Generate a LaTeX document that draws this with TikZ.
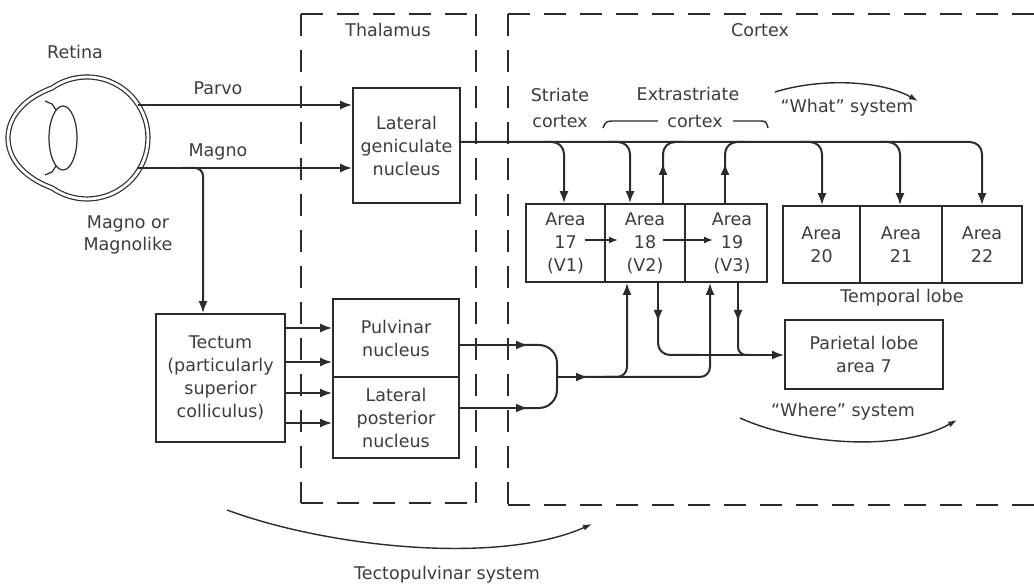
\documentclass[tikz,border=0pt]{standalone}
\usepackage{fontspec}
\setmainfont{DejaVu Sans}
\usetikzlibrary{arrows.meta,calc}
\definecolor{ink}{HTML}{2B2B2B}
\definecolor{inktext}{HTML}{3C3C3C}
\begin{document}
\begin{tikzpicture}[x=1pt,y=-1pt,
    every node/.style={text=inktext, font=\fontsize{17.5}{23}\selectfont},
    box/.style={draw=ink, line width=1.7pt, align=center, inner sep=0pt},
    wire/.style={draw=ink, line width=2pt},
    arrow/.style={wire, -{Latex[length=12pt,width=9pt]}},
    sweep/.style={draw=ink, line width=1.4pt, -{Latex[length=9pt,width=6pt]}},
    region/.style={draw=ink, line width=1.7pt, dash pattern=on 22pt off 14pt},
    eyeline/.style={draw=ink, double, double distance=2.8pt, line width=1.2pt}]
\useasboundingbox (0,0) rectangle (1034,585);

% dashed regions
\draw[region] (301,14) -- (476,14);
\draw[region] (301,14) -- (301,503);
\draw[region] (476,14) -- (476,503);
\draw[region] (301,503) -- (476,503);
\draw[region] (508,14) -- (1034,14);
\draw[region] (508,14) -- (508,505);
\draw[region] (508,505) -- (1034,505);

% eye
\draw[eyeline] (52,88) arc[start angle=-125, end angle=125, radius=61]
   .. controls (20,176) and (8,156) .. (8,138)
   .. controls (8,120) and (20,100) .. cycle;
\draw[ink, line width=1.2pt] (63,138) ellipse [x radius=14, y radius=32];
\draw[ink, line width=1.2pt] (45,101) -- (52,104) -- (56,110);
\draw[ink, line width=1.2pt] (45,175) -- (52,172) -- (56,166);
\coordinate (eyeP) at (138,105);
\coordinate (eyeM) at (137,168);

% boxes
\node[box, minimum width=107pt, minimum height=115pt] (lgn) at (406.5,145.5) {Lateral\\geniculate\\nucleus};
\node[box, minimum width=129pt, minimum height=128pt] (tectum) at (220.5,378) {Tectum\\(particularly\\superior\\colliculus)};
\node[box, minimum width=126pt, minimum height=78pt] (pulv) at (396,338) {Pulvinar\\nucleus};
\node[box, minimum width=126pt, minimum height=81pt] (lp) at (396,417.5) {Lateral\\posterior\\nucleus};

\node[box, minimum width=79pt, minimum height=78pt] (a17) at (565.5,243) {Area\\17\\(V1)};
\node[box, minimum width=80pt, minimum height=78pt] (a18) at (645,243) {Area\\18\\(V2)};
\node[box, minimum width=82pt, minimum height=78pt] (a19) at (726,243) {\hspace*{12pt}Area\\\hspace*{12pt}19\\\hspace*{12pt}(V3)};
\node[box, minimum width=77pt, minimum height=77pt] (a20) at (821.5,244.5) {Area\\20};
\node[box, minimum width=82pt, minimum height=77pt] (a21) at (901,244.5) {Area\\21};
\node[box, minimum width=80pt, minimum height=77pt] (a22) at (982,244.5) {Area\\22};
\node[box, minimum width=158pt, minimum height=69pt] (par) at (864,354.5) {Parietal lobe\\area 7};

% labels
\node (retina) at (75,52) {Retina};
\node (parvo) at (218,88) {Parvo};
\node (magno) at (218,152) {Magno};
\node[align=center, font=\fontsize{17.5}{22}\selectfont] (magnolike) at (128,235) {Magno or\\Magnolike};
\node (thal) at (388,30) {Thalamus};
\node (cortex) at (760,30) {Cortex};
\node[align=center, font=\fontsize{17.5}{26}\selectfont] (striate) at (560,108) {Striate\\cortex};
\node (extra) at (688,94) {Extrastriate};
\node (extra2) at (695,121) {cortex};
\node (what) at (847,108) {``What'' system};
\node (temporal) at (902,298) {Temporal lobe};
\node (where) at (843,412) {``Where'' system};
\node (tecto) at (447,575) {Tectopulvinar system};

% brace round extrastriate cortex
\draw[ink, line width=1.4pt] (603,128) .. controls (606,121) .. (616,121) -- (658,121);
\draw[ink, line width=1.4pt] (733,121) -- (758,121) .. controls (766,121) .. (768,128);

% retina to thalamus and tectum
\draw[arrow] (eyeP) -- (lgn.west |- eyeP);
\draw[arrow] (eyeM) -- (lgn.west |- eyeM);
\coordinate (mBranch) at (203,168);
\draw[arrow, rounded corners=8pt] (182,168) -- (mBranch) -- (mBranch |- tectum.north);

% tectum to pulvinar
\foreach \y in {328,362,393,423}
  \draw[arrow] (tectum.east |- 0,\y) -- (pulv.west |- 0,\y);

% pulvinar to cortex
\draw[arrow] (pulv.east |- 0,345) -- (528,345);
\draw[arrow] (lp.east |- 0,408) -- (528,408);
\draw[wire, rounded corners=18pt] (520,345) -- (557,345) -- (557,408) -- (520,408);
\coordinate (merge) at (557,377);
\draw[arrow] (merge) -- (588,377);
\draw[arrow, rounded corners=10pt] (580,377) -- (627,377) -- (627,0 |- a18.south);
\draw[arrow, rounded corners=10pt] (605,377) -- (710,377) -- (710,0 |- a19.south);

% to parietal lobe
\draw[arrow] (658,0 |- a18.south) -- (658,322);
\draw[wire, rounded corners=12pt] (658,314) -- (658,355) -- (700,355);
\draw[arrow] (738,0 |- a19.south) -- (738,322);
\draw[wire, rounded corners=8pt] (738,314) -- (738,355) -- (752,355);
\draw[arrow] (690,355) -- (par.west |- 0,355);

% geniculate bus
\coordinate (bus) at (lgn.east |- 0,142);
\draw[arrow, rounded corners=12pt] (bus) -- (982,142) -- (982,0 |- a22.north);
\foreach \x/\n in {564/a17, 630/a18, 822/a20, 900/a21}
  \draw[arrow, rounded corners=12pt] (\x-20,142) -- (\x,142) -- (\x,0 |- \n.north);
\foreach \x/\n in {663/a18, 725/a19} {
  \draw[arrow] (\x,0 |- \n.north) -- (\x,163);
  \draw[wire, rounded corners=12pt] (\x,168) -- (\x,142) -- (\x+20,142);
}

% within striate and extrastriate
\draw[arrow, -{Latex[length=9pt,width=7pt]}, line width=1.5pt] ($(a17.center)+(19,-3)$) -- ($(a18.center)+(-27,-3)$);
\draw[arrow, -{Latex[length=9pt,width=7pt]}, line width=1.5pt] ($(a18.center)+(18,-3)$) -- ($(a19.center)+(-13,-3)$);

% systems
\draw[sweep] (775,92) .. controls (820,78) and (880,80) .. (918,101);
\draw[sweep] (740,418) .. controls (800,445) and (900,452) .. (957,420);
\draw[sweep] (227,510) .. controls (330,548) and (500,565) .. (592,524);
\end{tikzpicture}
\end{document}
